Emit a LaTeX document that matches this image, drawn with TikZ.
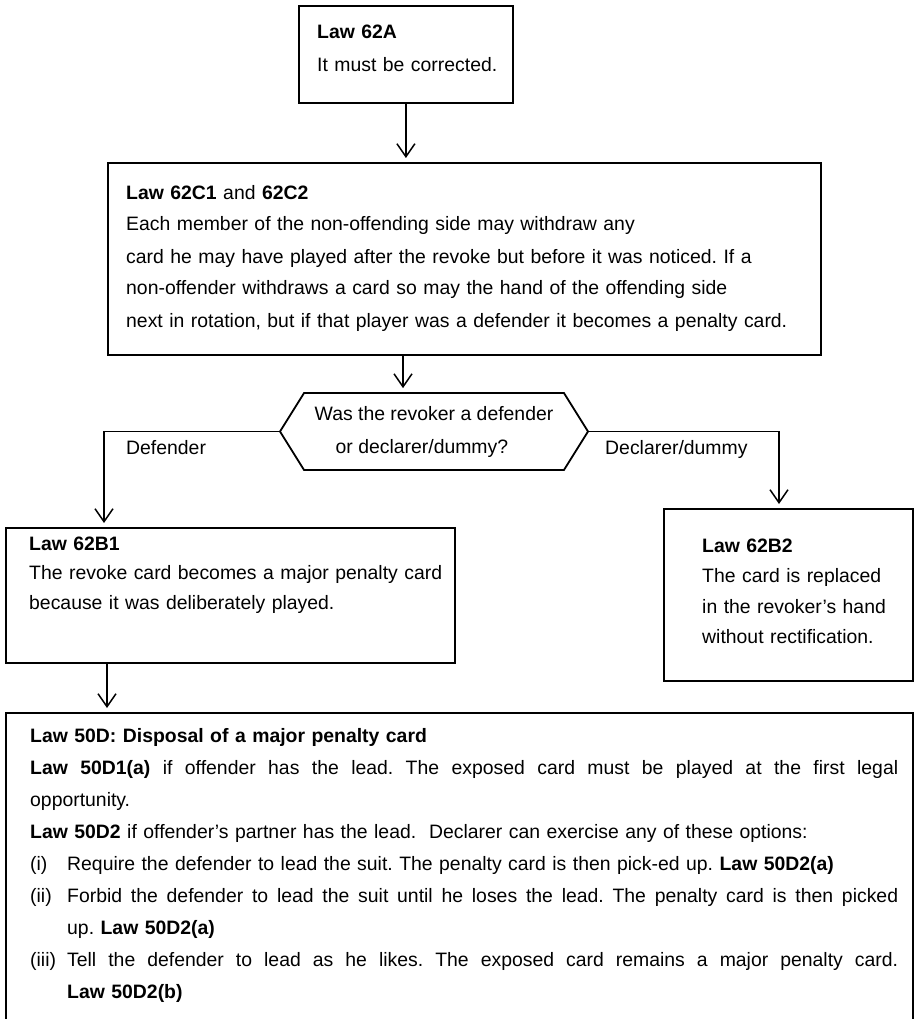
\documentclass[tikz,border=0pt]{standalone}
\usepackage{fontspec}
\setmainfont{Liberation Sans}
\usetikzlibrary{arrows.meta,shapes.symbols}
\newcommand{\fillline}[2]{\leavevmode\hbox to #1{\spaceskip=\fontdimen2\font plus 1fil\relax#2}}

\begin{document}
\frenchspacing
\begin{tikzpicture}[x=1pt,y=-1pt,
  frame/.style={draw,line width=1.8pt,anchor=north west,inner sep=0pt},
  txt/.style={anchor=base west,inner sep=0pt,align=left,font=\fontsize{19.4}{32}\selectfont},
  lbl/.style={anchor=base west,inner sep=0pt,font=\fontsize{19.4}{32}\selectfont},
  arr/.style={line width=1.5pt,-{Straight Barb[length=13pt,width=18pt]},shorten >=4pt}]
\useasboundingbox (0,0) rectangle (914,1019);
\clip (0,0) rectangle (914,1019);

\node[frame,minimum width=214pt,minimum height=97pt] (lawA) at (298,5) {};
\node[txt,text width=195pt,font=\fontsize{19.4}{33}\selectfont] (lawAtxt) at (317,39)
  {\textbf{Law 62A}\\It must be corrected.};

\node[frame,minimum width=713pt,minimum height=192pt] (lawC) at (107,162) {};
\node[txt,text width=690pt] (lawCtxt) at (126,199)
  {\textbf{Law 62C1} and \textbf{62C2}\\
   Each member of the non-offending side may withdraw any\\
   card he may have played after the revoke but before it was noticed. If a\\
   non-offender withdraws a card so may the hand of the offending side\\
   next in rotation, but if that player was a defender it becomes a penalty card.};

\node[draw,line width=1.8pt,shape=signal,signal to=west and east,signal pointer angle=116,
  minimum width=308pt,minimum height=77pt,inner sep=0pt,align=left,
  font=\fontsize{19.4}{33}\selectfont] (revoker) at (434,431.5)
  {Was the revoker a defender\\\hspace*{21pt}or declarer/dummy?};

\node[lbl] (defLbl) at (126,454) {Defender};
\node[lbl] (declLbl) at (605,454) {Declarer/dummy};

\node[frame,minimum width=449pt,minimum height=135pt] (lawBa) at (5,527) {};
\node[txt,text width=430pt,font=\fontsize{19.4}{29.5}\selectfont] (lawBatxt) at (29,550)
  {\textbf{Law 62B1}\\The revoke card becomes a major penalty card\\because it was deliberately played.};

\node[frame,minimum width=249pt,minimum height=172pt] (lawBb) at (663,508) {};
\node[txt,text width=205pt,font=\fontsize{19.4}{30.5}\selectfont] (lawBbtxt) at (702,552)
  {\textbf{Law 62B2}\\The card is replaced\\in the revoker’s hand\\without rectification.};

\node[frame,minimum width=907pt,minimum height=320pt] (lawD) at (5,712) {};
\node[txt,text width=868pt] (lawDtxt) at (30,742)
  {\textbf{Law 50D: Disposal of a major penalty card}\\
   \fillline{868pt}{\textbf{Law 50D1(a)} if offender has the lead. The exposed card must be played at the first legal}\\
   opportunity.\\
   \textbf{Law 50D2} if offender’s partner has the lead.\ \ Declarer can exercise any of these options:\\
   \makebox[37pt][l]{(i)}Require the defender to lead the suit. The penalty card is then pick-ed up. \textbf{Law 50D2(a)}\\
   \makebox[37pt][l]{(ii)}\fillline{831pt}{Forbid the defender to lead the suit until he loses the lead. The penalty card is then picked}\\
   \hspace*{37pt}up. \textbf{Law 50D2(a)}\\
   \makebox[37pt][l]{(iii)}\fillline{831pt}{Tell the defender to lead as he likes. The exposed card remains a major penalty card.}\\
   \hspace*{37pt}\textbf{Law 50D2(b)}};

\draw[arr] (lawA.south) -- (lawA.south |- lawC.north);
\draw[arr] ([xshift=296pt]lawC.south west) coordinate (cOut) -- (cOut |- revoker.north);
\draw[arr] (revoker.west) -| ([xshift=99pt]lawBa.north west);
\draw[arr] (revoker.east) -| ([xshift=116pt]lawBb.north west);
\draw[arr] ([xshift=102pt]lawBa.south west) coordinate (baOut) -- (baOut |- lawD.north);
\end{tikzpicture}
\end{document}
